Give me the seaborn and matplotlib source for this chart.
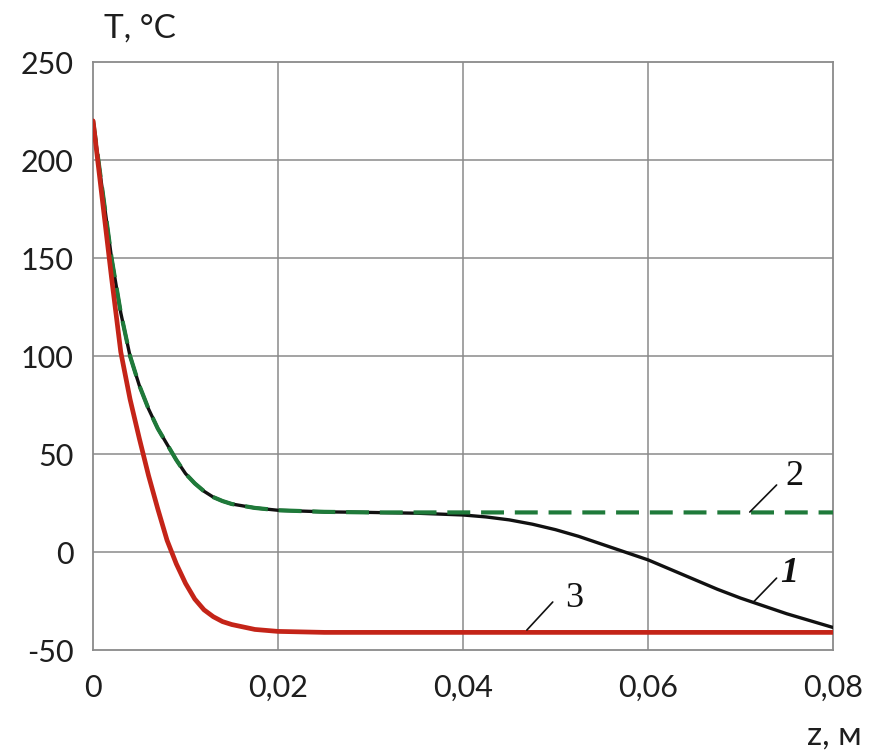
import matplotlib
matplotlib.use("Agg")
import matplotlib.pyplot as plt
import seaborn as sns
import pandas as pd

# Temperature profiles T(z)
z_1 = [0, 0.001, 0.002, 0.003, 0.004, 0.005, 0.006, 0.007, 0.008, 0.009, 0.010,
       0.011, 0.012, 0.013, 0.014, 0.015, 0.0175, 0.020, 0.025, 0.030, 0.035,
       0.040, 0.0425, 0.045, 0.0475, 0.050, 0.0525, 0.055, 0.0575, 0.060,
       0.0625, 0.065, 0.0675, 0.070, 0.0725, 0.075, 0.0775, 0.080]
t_1 = [220, 185, 150, 122, 100, 85, 73, 63, 55, 47, 40,
       35, 31, 28, 26, 24.5, 22.5, 21.3, 20.5, 20.2, 19.8,
       18.9, 17.9, 16.4, 14.2, 11.4, 8.0, 4.0, 0.0, -4.0,
       -9.0, -14.0, -19.0, -23.5, -27.5, -31.5, -35.0, -38.5]

z_2 = [0, 0.001, 0.002, 0.003, 0.004, 0.005, 0.006, 0.007, 0.008, 0.009, 0.010,
       0.011, 0.012, 0.013, 0.014, 0.015, 0.0175, 0.020, 0.025, 0.030, 0.040,
       0.050, 0.060, 0.070, 0.080]
t_2 = [220, 185, 150, 122, 100, 85, 73, 63, 55, 47, 40,
       35, 31, 28, 26, 24.5, 22.5, 21.3, 20.5, 20.2, 20.2,
       20.2, 20.2, 20.2, 20.2]

z_3 = [0, 0.001, 0.002, 0.003, 0.004, 0.005, 0.006, 0.007, 0.008, 0.009, 0.010,
       0.011, 0.012, 0.013, 0.014, 0.015, 0.0175, 0.020, 0.025, 0.080]
t_3 = [220, 180, 140, 102, 78, 58, 39, 22, 6, -6, -16,
       -24, -29.5, -33, -35.5, -37, -39.5, -40.5, -41, -41]

x_ticks = [0, 0.02, 0.04, 0.06, 0.08]
x_tick_labels = ["0", "0,02", "0,04", "0,06", "0,08"]
y_ticks = [-50, 0, 50, 100, 150, 200, 250]
y_tick_labels = ["-50", "0", "50", "100", "150", "200", "250"]

curve_labels = ["1", "2", "3"]

df1 = pd.DataFrame({"z": z_1, "T": t_1})
df2 = pd.DataFrame({"z": z_2, "T": t_2})
df3 = pd.DataFrame({"z": z_3, "T": t_3})

sns.set_style("white")
plt.rcParams["font.family"] = ["Lato", "DejaVu Sans"]

fig = plt.figure(figsize=(8.72, 7.5), dpi=100)
ax = fig.add_axes([0.1067, 0.1333, 0.8486, 0.784])

grid_color = "#8a8a8a"
for v in x_ticks[1:-1]:
    ax.axvline(v, color=grid_color, lw=1.1, zorder=1)
for v in y_ticks[1:-1]:
    ax.axhline(v, color=grid_color, lw=1.1, zorder=1)

sns.lineplot(data=df1, x="z", y="T", ax=ax, color="#111111", lw=2.4,
             sort=False, zorder=3)
sns.lineplot(data=df2, x="z", y="T", ax=ax, color="#1f7a3a", lw=3.0,
             sort=False, zorder=4, dashes=False)
ax.lines[-1].set_dashes([5.5, 2.6])
sns.lineplot(data=df3, x="z", y="T", ax=ax, color="#c42418", lw=3.4,
             sort=False, zorder=5)

ax.set_xlim(0, 0.08)
ax.set_ylim(-50, 250)
ax.set_xticks(x_ticks)
ax.set_xticklabels(x_tick_labels)
ax.set_yticks(y_ticks)
ax.set_yticklabels(y_tick_labels)
ax.tick_params(axis="both", length=0, labelsize=22, colors="#1e1e1e")
ax.tick_params(axis="y", pad=14)
ax.tick_params(axis="x", pad=17)
ax.set_xlabel("")
ax.set_ylabel("")
for s in ax.spines.values():
    s.set_color(grid_color)
    s.set_linewidth(1.3)
    s.set_visible(True)

# axis titles
fig.text(0.119, 0.962, "T, °C", fontsize=24, color="#1e1e1e", ha="left", va="center")
fig.text(0.9885, 0.019, "z, м", fontsize=24, color="#1e1e1e", ha="right", va="center")

# curve numbers with leader lines
serif = ["Liberation Serif", "DejaVu Serif"]
ax.plot([0.0714, 0.0739], [-25.5, -13.3], color="#111111", lw=1.2, zorder=6)
ax.text(0.0753, -11.0, curve_labels[0], fontsize=26, family=serif,
        style="italic", weight="bold", ha="center", va="center", color="#111111")
ax.plot([0.0710, 0.0739], [20.4, 34.2], color="#111111", lw=1.2, zorder=6)
ax.text(0.0758, 38.5, curve_labels[1], fontsize=26, family=serif,
        ha="center", va="center", color="#111111")
ax.plot([0.0469, 0.0497], [-39.8, -25.5], color="#111111", lw=1.2, zorder=6)
ax.text(0.0520, -23.5, curve_labels[2], fontsize=26, family=serif,
        ha="center", va="center", color="#111111")

fig.savefig("out.png", dpi=100)
